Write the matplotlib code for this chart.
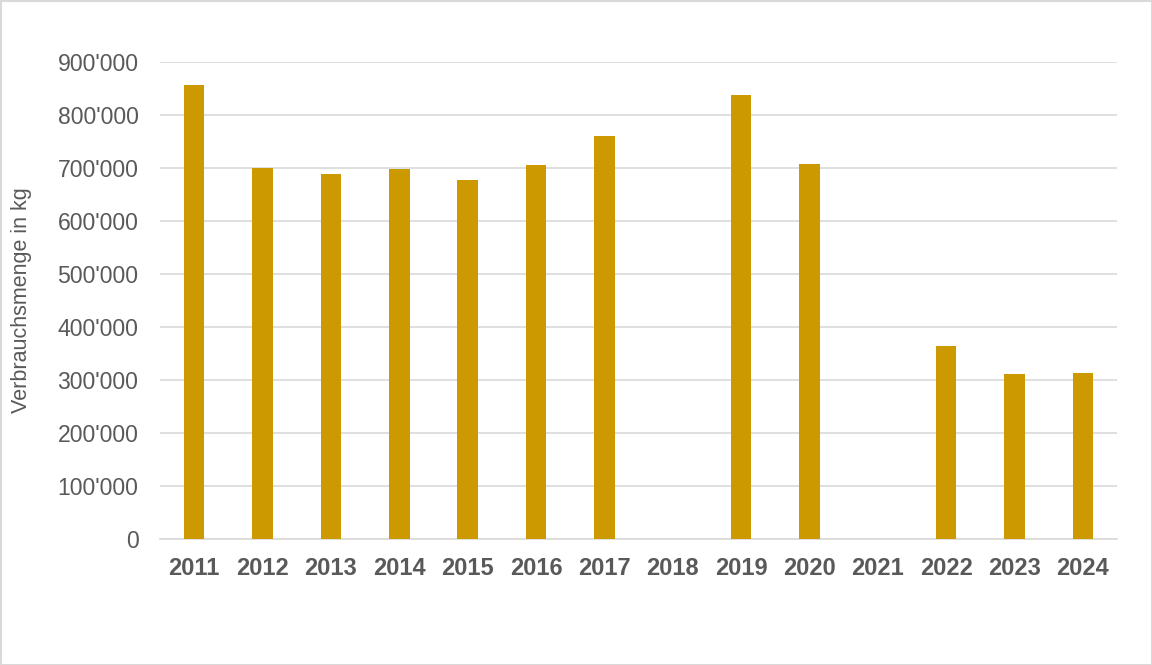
import matplotlib
matplotlib.use("Agg")
import matplotlib.pyplot as plt
from matplotlib.ticker import FuncFormatter, MultipleLocator
from matplotlib.patches import Rectangle
import numpy as np

years = ["2011", "2012", "2013", "2014", "2015", "2016", "2017", "2018",
         "2019", "2020", "2021", "2022", "2023", "2024"]
values = [856000, 700000, 689000, 698000, 677000, 706000, 760000, np.nan,
          837000, 707000, np.nan, 364000, 312000, 314000]

plt.rcParams['font.family'] = ['Liberation Sans', 'DejaVu Sans']

fig = plt.figure(figsize=(11.52, 6.65), dpi=100)
ax = fig.add_axes([160/1152, 1 - 539/665, (1117-160)/1152, (539-62)/665])

x = np.arange(len(years))
vals = np.array(values, dtype=float)
mask = ~np.isnan(vals)
ax.bar(x[mask], vals[mask], width=0.3, color="#CC9900", zorder=3)

ax.set_xlim(-0.5, len(years) - 0.5)
ax.set_ylim(0, 900000)
ax.yaxis.set_major_locator(MultipleLocator(100000))
ax.yaxis.set_major_formatter(FuncFormatter(lambda v, p: f"{int(v):,}".replace(",", "'")))
ax.set_xticks(x)
ax.set_xticklabels(years, fontweight="bold")
ax.tick_params(axis="x", length=0, pad=13, labelsize=17, colors="#595959")
ax.tick_params(axis="y", length=0, pad=15.5, labelsize=16.6, colors="#595959")
ax.grid(axis="y", color="#D9D9D9", linewidth=1.2, zorder=0)
for s in ["top", "right", "left"]:
    ax.spines[s].set_visible(False)
ax.spines["bottom"].set_color("#D9D9D9")
ax.spines["bottom"].set_linewidth(1.2)
ax.set_ylabel("Verbrauchsmenge in kg", fontsize=15.5, color="#595959")
ax.yaxis.set_label_coords(-0.134, 0.5)

fig.patches.append(Rectangle((0.5/1152, 0.5/665), 1 - 1/1152, 1 - 1/665,
                             transform=fig.transFigure, fill=False,
                             edgecolor="#D9D9D9", linewidth=1.5))

fig.savefig("out.png", dpi=100)
